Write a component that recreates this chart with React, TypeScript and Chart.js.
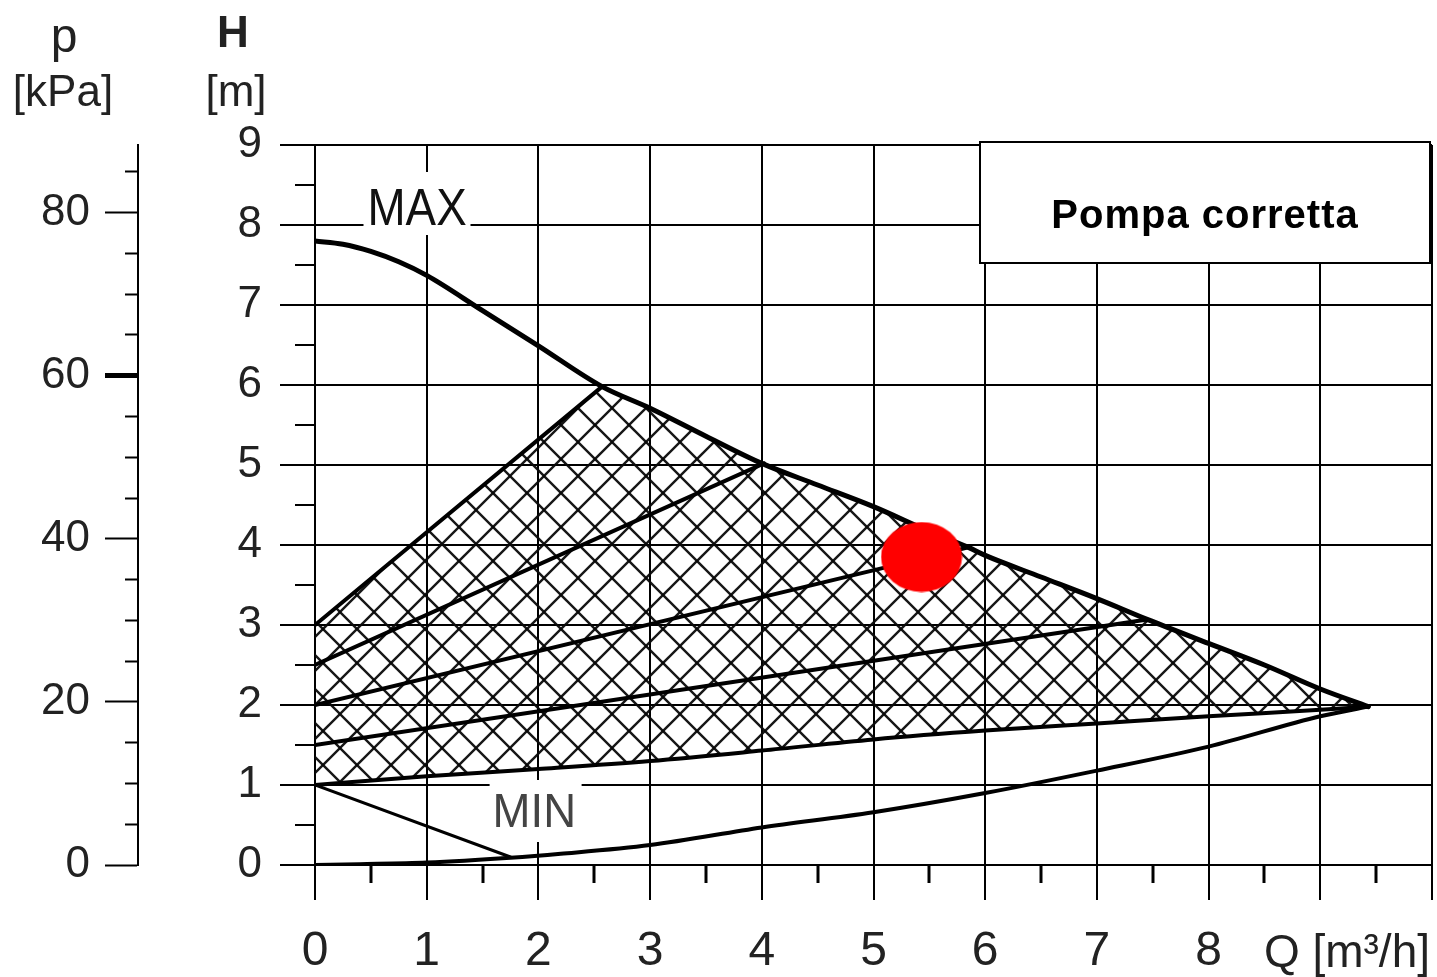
import React, { useEffect, useRef } from 'react';
import { Chart, registerables } from 'chart.js';

Chart.register(...registerables);

// ---- data (Q in m3/h, H in m) ----
const maxQ = [0, 0.25, 0.5, 0.75, 1.0, 1.5, 2.0, 2.57, 3.0, 3.5, 4.0, 4.5, 5.0, 5.5, 5.85, 6.0, 6.5, 7.0, 7.45, 8.0, 8.5, 9.0, 9.43];
const maxH = [7.8, 7.76, 7.67, 7.54, 7.37, 6.93, 6.49, 5.98, 5.71, 5.36, 5.02, 4.75, 4.48, 4.17, 3.97, 3.87, 3.6, 3.33, 3.07, 2.77, 2.5, 2.2, 1.98];

const lowQ = [0, 0.4, 1.0, 1.75, 2.2, 3.0, 4.0, 5.0, 6.0, 7.0, 8.0, 9.0, 9.43];
const lowH = [0, 0.01, 0.03, 0.09, 0.14, 0.25, 0.47, 0.66, 0.9, 1.18, 1.48, 1.86, 1.98];

const minQ = [0, 1.75];
const minH = [1.0, 0.1];

const botQ = [0, 1, 2, 3, 4, 5, 6, 7, 8, 9, 9.43];
const botH = [1.0, 1.11, 1.2, 1.3, 1.43, 1.57, 1.68, 1.77, 1.86, 1.94, 1.98];

// constant-pressure lines inside the working field
const line1Q = [0, 2.57];
const line1H = [3.0, 5.98];
const line2Q = [0, 4.02];
const line2H = [2.5, 5.02];
const line3Q = [0, 5.85];
const line3H = [2.0, 3.97];
const line4Q = [0, 7.45];
const line4H = [1.5, 3.07];

// operating point
const dotQ = [5.43];
const dotH = [3.85];

// ticks
const xTickValues = [0, 1, 2, 3, 4, 5, 6, 7, 8];
const xTickLabels = ['0', '1', '2', '3', '4', '5', '6', '7', '8'];
const hTickValues = [0, 1, 2, 3, 4, 5, 6, 7, 8, 9];
const hTickLabels = ['0', '1', '2', '3', '4', '5', '6', '7', '8', '9'];
const pTickValues = [0, 20, 40, 60, 80];
const pTickLabels = ['0', '20', '40', '60', '80'];

const KPA_PER_M = 9.81;
const FONT = "'Liberation Sans', Arial, Helvetica, sans-serif";

const toXY = (xs: number[], ys: number[]) => xs.map((x, i) => ({ x, y: ys[i] }));
const near = (a: number, b: number) => Math.abs(a - b) < 1e-6;
const isInt = (v: number) => near(v, Math.round(v));
const lookup = (vals: number[], labels: string[], v: number) => {
  const i = vals.findIndex((t) => near(t, v));
  return i >= 0 ? labels[i] : '';
};

export default function App() {
  const ref = useRef<HTMLCanvasElement>(null);

  useEffect(() => {
    const canvas = ref.current!;
    const ctx = canvas.getContext('2d')!;

    // cross-hatch pattern
    const s = 34;
    const pc = document.createElement('canvas');
    pc.width = s;
    pc.height = s;
    const pctx = pc.getContext('2d')!;
    pctx.strokeStyle = 'rgba(10,10,10,0.95)';
    pctx.lineWidth = 2.4;
    for (let k = -2; k <= 3; k++) {
      pctx.beginPath();
      pctx.moveTo(-s, -s + k * s);
      pctx.lineTo(2 * s, 2 * s + k * s);
      pctx.stroke();
      pctx.beginPath();
      pctx.moveTo(-s, s + k * s);
      pctx.lineTo(2 * s, -2 * s + k * s);
      pctx.stroke();
    }
    const hatch = ctx.createPattern(pc, 'repeat')!;

    // ellipse marker
    const dc = document.createElement('canvas');
    dc.width = 82;
    dc.height = 71;
    const dctx = dc.getContext('2d')!;
    dctx.fillStyle = '#ff0000';
    dctx.beginPath();
    dctx.ellipse(41, 35.5, 40.5, 35, 0, 0, Math.PI * 2);
    dctx.fill();

    const hatchQ = [0, line1Q[0], ...maxQ.filter((q) => q >= line1Q[1] - 1e-9)];
    const hatchH = [1.0, line1H[0], ...maxH.filter((_, i) => maxQ[i] >= line1Q[1] - 1e-9)];
    const hatchPts = [...toXY(hatchQ, hatchH), ...toXY(botQ, botH).reverse()];

    const lineDs = (label: string, xs: number[], ys: number[], w = 4, mono = false) => ({
      label,
      data: toXY(xs, ys),
      borderColor: '#000',
      borderWidth: w,
      pointRadius: 0,
      fill: false,
      order: 2,
      cubicInterpolationMode: mono ? 'monotone' : 'default',
      tension: 0,
      borderCapStyle: 'round',
      borderJoinStyle: 'round',
    });

    const overlay = {
      id: 'overlay',
      beforeDatasetsDraw(chart: any) {
        const c = chart.ctx;
        const xs = chart.scales.x;
        const ys = chart.scales.y;
        c.save();
        // MAX label
        const mx = xs.getPixelForValue(0.47);
        const my = ys.getPixelForValue(8);
        c.fillStyle = '#fff';
        c.fillRect(mx - 4, my - 53, 107, 63);
        c.fillStyle = '#111';
        c.font = `52px ${FONT}`;
        c.textAlign = 'left';
        c.textBaseline = 'alphabetic';
        c.translate(mx, my);
        c.scale(0.88, 1);
        c.fillText('MAX', 0, 0);
        c.restore();

        c.save();
        const nx = xs.getPixelForValue(1.59);
        const ny = ys.getPixelForValue(0.475);
        c.fillStyle = '#fff';
        c.fillRect(nx - 3, ny - 47, 92, 62);
        c.fillStyle = '#444';
        c.font = `49px ${FONT}`;
        c.textAlign = 'left';
        c.textBaseline = 'alphabetic';
        c.translate(nx, ny);
        c.scale(0.93, 1);
        c.fillText('MIN', 0, 0);
        c.restore();
      },
      afterDraw(chart: any) {
        const c = chart.ctx;
        const a = chart.chartArea;
        c.save();
        // legend box
        const bx = 980, by = a.top - 3, bw = a.right - 2 - 980, bh = 121;
        c.fillStyle = '#fff';
        c.fillRect(bx, by, bw, bh);
        c.strokeStyle = '#000';
        c.lineWidth = 2;
        c.strokeRect(bx, by, bw, bh);
        c.fillStyle = '#000';
        c.font = `bold 40px ${FONT}`;
        (c as any).letterSpacing = '1px';
        c.textAlign = 'center';
        c.textBaseline = 'alphabetic';
        c.fillText('Pompa corretta', bx + bw / 2, by + 86);
        (c as any).letterSpacing = '0px';

        // axis titles
        c.fillStyle = '#222';
        c.font = `48px ${FONT}`;
        c.fillText('p', 64, 52);
        c.font = `44px ${FONT}`;
        c.fillText('[kPa]', 63, 106);
        c.font = `bold 44px ${FONT}`;
        c.fillText('H', 233, 47);
        c.font = `44px ${FONT}`;
        c.fillText('[m]', 236, 106);

        // Q label
        c.font = `46px ${FONT}`;
        c.textAlign = 'right';
        c.fillText('Q [m³/h]', a.right - 2, 967);
        c.restore();
      },
    };

    const chart = new Chart(ctx, {
      type: 'line',
      data: {
        datasets: [
          {
            label: 'punto di lavoro',
            data: toXY(dotQ, dotH),
            showLine: false,
            pointStyle: dc as any,
            pointRadius: 40,
            pointHoverRadius: 40,
            order: 0,
          } as any,
          lineDs('MAX', maxQ, maxH, 5, true),
          lineDs('min', lowQ, lowH, 4, true),
          lineDs('MIN', minQ, minH, 3),
          lineDs('base', botQ, botH, 4, true),
          lineDs('p1', line1Q, line1H, 4),
          lineDs('p2', line2Q, line2H, 4),
          lineDs('p3', line3Q, line3H, 4),
          lineDs('p4', line4Q, line4H, 4),
          {
            label: 'campo',
            data: hatchPts,
            borderColor: 'rgba(0,0,0,0)',
            borderWidth: 0,
            backgroundColor: hatch,
            pointRadius: 0,
            fill: 'shape',
            tension: 0,
            order: 5,
          } as any,
        ] as any,
      },
      options: {
        animation: false,
        responsive: false,
        maintainAspectRatio: false,
        events: [],
        layout: { autoPadding: false, padding: { left: 0, right: 5, top: 145, bottom: 0 } },
        plugins: {
          legend: { display: false },
          tooltip: { enabled: false },
        },
        scales: {
          x: {
            type: 'linear',
            position: 'bottom',
            min: 0,
            max: 10,
            ticks: {
              stepSize: 0.5,
              autoSkip: false,
              maxRotation: 0,
              includeBounds: false,
              padding: 23,
              color: '#222',
              font: { family: FONT, size: 48 },
              callback: (v: any) => lookup(xTickValues, xTickLabels, Number(v)),
            },
            grid: {
              color: (c: any) => (isInt(c.tick.value) ? '#000' : 'rgba(0,0,0,0)'),
              lineWidth: 2,
              tickLength: 35,
              tickColor: '#000',
              tickWidth: (c: any) => (isInt(c.tick.value) ? 2 : 3),
              tickBorderDash: (c: any) => (isInt(c.tick.value) ? [] : [17, 100]),
            },
            border: { color: '#000', width: 2 },
            afterFit: (sc: any) => {
              sc.height = 112;
              sc.paddingLeft = 0;
              sc.paddingRight = 0;
            },
          },
          y: {
            type: 'linear',
            position: 'left',
            weight: 0,
            min: 0,
            max: 9,
            ticks: {
              stepSize: 0.5,
              autoSkip: false,
              includeBounds: false,
              padding: 18,
              color: '#222',
              font: { family: FONT, size: 44 },
              callback: (v: any) => lookup(hTickValues, hTickLabels, Number(v)),
            },
            grid: {
              color: (c: any) => (isInt(c.tick.value) ? '#000' : 'rgba(0,0,0,0)'),
              lineWidth: 2,
              tickLength: 35,
              tickColor: '#000',
              tickWidth: 2,
              tickBorderDash: (c: any) => (isInt(c.tick.value) ? [] : [0, 15, 20, 100]),
            },
            border: { color: '#000', width: 2 },
            afterFit: (sc: any) => {
              sc.width = 177;
            },
          },
          p: {
            type: 'linear',
            position: 'left',
            weight: 1,
            min: 0,
            max: 9 * KPA_PER_M,
            ticks: {
              stepSize: 5,
              autoSkip: false,
              includeBounds: false,
              padding: 15,
              color: '#222',
              font: { family: FONT, size: 44 },
              callback: (v: any) => lookup(pTickValues, pTickLabels, Number(v)),
            },
            grid: {
              drawOnChartArea: false,
              tickLength: 33,
              tickColor: '#000',
              tickWidth: (c: any) => (near(c.tick.value, 60) ? 5 : 2),
              tickBorderDash: (c: any) => (near(c.tick.value % 20, 0) ? [] : [0, 20, 13, 100]),
            },
            border: { color: '#000', width: 2 },
            afterFit: (sc: any) => {
              sc.width = 138;
            },
          },
        } as any,
      },
      plugins: [overlay],
    });

    return () => chart.destroy();
  }, []);

  return (
    <div style={{ position: 'absolute', left: 0, top: 0, width: 1437, height: 977, background: '#fff' }}>
      <canvas ref={ref} width={1437} height={977} style={{ display: 'block' }} />
    </div>
  );
}
